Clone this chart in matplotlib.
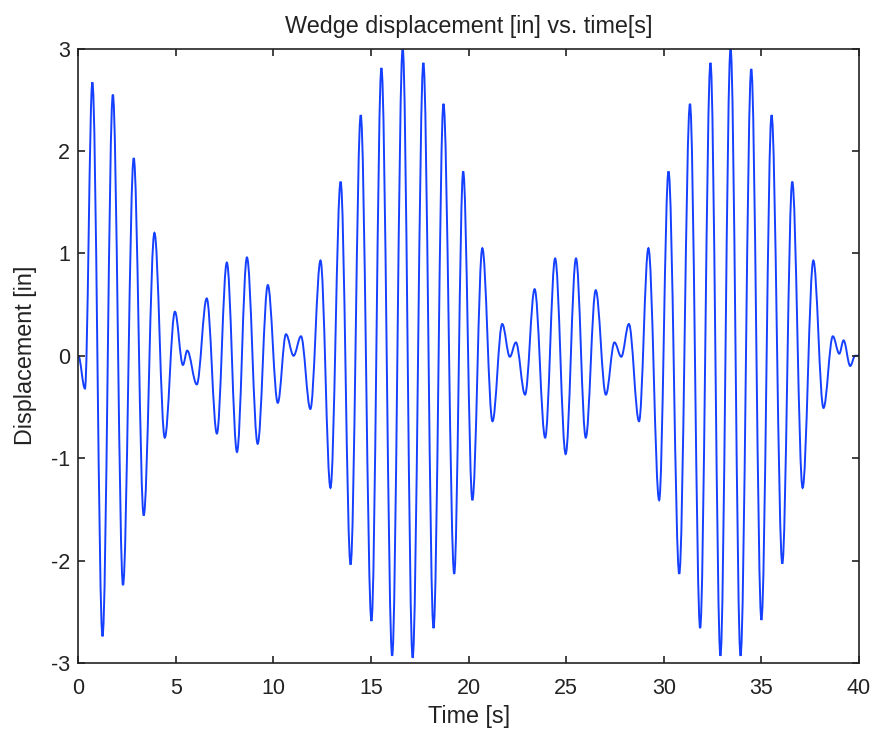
import matplotlib
matplotlib.use("Agg")
import matplotlib.pyplot as plt
from matplotlib.path import Path
from matplotlib.patches import PathPatch

# Turning points of the wedge response (time in s, displacement in in)
time_s = [0.0, 0.34, 0.72, 1.24, 1.77, 2.29, 2.84, 3.35, 3.90, 4.43,
          4.95, 5.36, 5.58, 6.07, 6.58, 7.10, 7.61, 8.13, 8.64, 9.19,
          9.71, 10.22, 10.64, 11.03, 11.41, 11.89, 12.41, 12.92, 13.44, 13.95,
          14.47, 15.02, 15.53, 16.08, 16.62, 17.13, 17.68, 18.20, 18.71, 19.26,
          19.72, 20.19, 20.70, 21.22, 21.72, 22.11, 22.42, 22.89, 23.38, 23.92,
          24.43, 24.97, 25.50, 26.00, 26.51, 27.03, 27.47, 27.82, 28.21, 28.73,
          29.21, 29.76, 30.24, 30.79, 31.34, 31.86, 32.39, 32.90, 33.42, 33.93,
          34.48, 35.00, 35.52, 36.07, 36.58, 37.11, 37.66, 38.18, 38.66, 38.99,
          39.21, 39.55, 39.80, 40.0]
disp_in = [0.0, -0.32, 2.67, -2.74, 2.55, -2.24, 1.93, -1.56, 1.20, -0.80,
           0.43, -0.09, 0.05, -0.28, 0.56, -0.76, 0.91, -0.94, 0.96, -0.86,
           0.69, -0.46, 0.21, 0.00, 0.19, -0.52, 0.93, -1.29, 1.70, -2.04,
           2.35, -2.59, 2.81, -2.93, 3.00, -2.95, 2.86, -2.66, 2.46, -2.13,
           1.80, -1.41, 1.05, -0.64, 0.31, -0.01, 0.13, -0.38, 0.65, -0.80,
           0.95, -0.96, 0.95, -0.80, 0.64, -0.38, 0.13, -0.01, 0.31, -0.64,
           1.05, -1.41, 1.80, -2.13, 2.46, -2.66, 2.86, -2.93, 3.00, -2.93,
           2.80, -2.58, 2.35, -2.03, 1.70, -1.29, 0.93, -0.51, 0.19, 0.02,
           0.15, -0.10, 0.0, 0.0]

x_ticks = [0, 5, 10, 15, 20, 25, 30, 35, 40]
y_ticks = [-3, -2, -1, 0, 1, 2, 3]

plt.rcParams['font.family'] = ['Liberation Sans', 'DejaVu Sans']
ink = '#222222'

fig = plt.figure(figsize=(8.76, 7.35), dpi=100, facecolor='white')
ax = fig.add_axes([0.0894, 0.098, 0.8912, 0.836])

# Smooth swing between consecutive turning points: cubic segments with
# flat tangents at each peak and trough.
verts = [(time_s[0], disp_in[0])]
codes = [Path.MOVETO]
k = 0.36
for i in range(len(time_s) - 1):
    t0, y0 = time_s[i], disp_in[i]
    t1, y1 = time_s[i + 1], disp_in[i + 1]
    dt = t1 - t0
    verts += [(t0 + k * dt, y0), (t1 - k * dt, y1), (t1, y1)]
    codes += [Path.CURVE4] * 3
ax.add_patch(PathPatch(Path(verts, codes), fill=False,
                       edgecolor='#1540ff', linewidth=1.4,
                       transform=ax.transData))

ax.set_xlim(0, 40)
ax.set_ylim(-3, 3)
ax.set_xticks(x_ticks)
ax.set_yticks(y_ticks)
ax.set_xticklabels([str(v) for v in x_ticks])
ax.set_yticklabels([str(v) for v in y_ticks])

ax.tick_params(direction='in', length=5, width=1.2, top=True, right=True,
               labelsize=15.5, colors=ink)
ax.tick_params(axis='x', pad=11)
ax.tick_params(axis='y', pad=6)
for s in ax.spines.values():
    s.set_linewidth(1.2)
    s.set_color(ink)

ax.set_title('Wedge displacement [in] vs. time[s]', fontsize=16.8,
             color=ink, pad=11)
ax.set_xlabel('Time [s]', fontsize=16.8, color=ink, labelpad=4)
ax.set_ylabel('Displacement [in]', fontsize=16.8, color=ink, labelpad=10)

fig.savefig('out.png', dpi=100, facecolor='white')
